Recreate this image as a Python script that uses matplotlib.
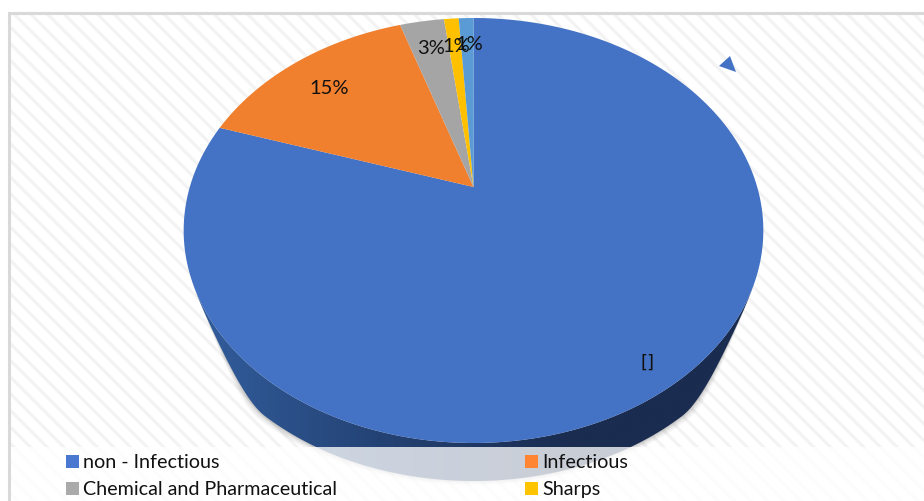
import numpy as np
import matplotlib
matplotlib.use("Agg")
import matplotlib.pyplot as plt
from matplotlib.colors import LinearSegmentedColormap
from matplotlib.patches import Polygon, Rectangle

plt.rcParams['font.family'] = ['Lato', 'DejaVu Sans']
plt.rcParams['hatch.linewidth'] = 2.2
plt.rcParams['hatch.color'] = '#f3f3f3'

categories = ['non - Infectious', 'Infectious', 'Chemical and Pharmaceutical', 'Sharps', 'Other']
values = [80, 15, 3, 1, 1]
labels = ['[]', '15%', '3%', '1%', '1%']
colors = ['#4472c4', '#f07f2e', '#a5a5a5', '#ffc000', '#5b9bd5']
legend_colors = ['#4a78d0', '#ff8533', '#aaaaaa', '#ffc400']

# picture coordinates, y goes down
W, H = 924, 502
apex_x, apex_y = 473.5, 188
a, b, p = 283.7, 203.6, 0.2047
depth = 38


def project(angle):
    # angle clockwise from the top of the pie, tilted view so the apex sits off centre
    u = np.sin(angle)
    v = np.cos(angle)
    d = 1 + p * v
    return apex_x + a * u / d, apex_y - b * v / d


def side_fade(x):
    # side gets thin towards the far left and right of the pie
    t = np.clip((0.97 - np.abs(x - apex_x) / 290) / 0.25, 0, 1)
    return 3 * t**2 - 2 * t**3


fig = plt.figure(figsize=(W / 100, H / 100), dpi=100)
ax = fig.add_axes([0, 0, 1, 1])
ax.set_xlim(0, W)
ax.set_ylim(H, 0)
ax.axis('off')

# background with the diagonal stripes
ax.add_patch(Rectangle((9, 14), W, H, facecolor='white', edgecolor='#f3f3f3', hatch='\\\\', lw=0, zorder=0))
ax.plot([9, 9, W], [H, 14, 14], color='#d9d9d9', lw=2.2, zorder=1, solid_joinstyle='miter')

theta = np.linspace(0, 2 * np.pi, 721)
rim_x, rim_y = project(theta)
left = np.argmin(rim_x)
right = np.argmax(rim_x)
lower_x = rim_x[right:left + 1]
lower_y = rim_y[right:left + 1]
fade = side_fade(lower_x)
outer_y = lower_y + depth * fade

# soft shadow under the pie, only where the side shows
for grow, al in zip([7, 5, 3, 1.5], [0.05, 0.07, 0.09, 0.12]):
    sx = lower_x + np.sign(lower_x - apex_x) * grow * fade * np.abs(lower_x - apex_x) / 290
    sy = outer_y + grow * fade * 0.6
    ax.fill(np.r_[sx, lower_x[::-1]], np.r_[sy, lower_y[::-1]], color='#555555', alpha=al, lw=0, zorder=2)

# side of the pie
side = np.column_stack([np.r_[lower_x, lower_x[::-1]], np.r_[outer_y, lower_y[::-1]]])
side_cmap = LinearSegmentedColormap.from_list('side', ['#335f9f', '#244375', '#1a2c50', '#1a2c50'])
im = ax.imshow(np.linspace(0, 1, 256).reshape(1, -1), cmap=side_cmap, aspect='auto',
               extent=(184, 763, 500, 200), zorder=3)
im.set_clip_path(Polygon(side, transform=ax.transData))
ax.set_xlim(0, W)
ax.set_ylim(H, 0)

# top of the pie
edges = np.r_[0, np.cumsum(values)] / np.sum(values) * 2 * np.pi
for i, val in enumerate(values):
    t = np.linspace(edges[i], edges[i + 1], 300)
    x, y = project(t)
    ax.fill(np.r_[apex_x, x], np.r_[apex_y, y], color=colors[i], lw=0, zorder=4)

label_x = [647, 329, 431, 456, 469]
label_y = [363, 88, 49, 46, 45]
for i, lab in enumerate(labels):
    if lab == '[]':
        ax.text(label_x[i], label_y[i], lab, fontsize=13, family='DejaVu Sans', color='#111111',
                ha='center', va='center', zorder=6)
    else:
        ax.text(label_x[i], label_y[i], lab, fontsize=14.5, color='#111111',
                ha='center', va='center', zorder=6)

# stray marker top right
ax.fill([730, 719, 736], [57, 67, 73], color='#4472c4', lw=0, zorder=4)

# legend box lies over the bottom of the pie
ax.add_patch(Rectangle((11, 448), W, H - 448, facecolor='white', alpha=0.77, lw=0, zorder=5))
box_x = [66, 525, 66, 525]
box_y = [456, 456, 483, 483]
for i in range(4):
    ax.add_patch(Rectangle((box_x[i], box_y[i]), 13, 13, facecolor=legend_colors[i], lw=0, zorder=6))
    ax.text(box_x[i] + 17, box_y[i] + 7, categories[i], fontsize=14.2, color='#111111', va='center', zorder=6)

plt.savefig('out.png', dpi=100)
